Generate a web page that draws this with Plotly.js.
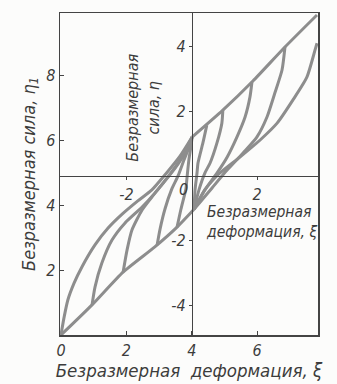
<!DOCTYPE html>
<html>
<head>
<meta charset="utf-8">
<script src="https://cdn.plot.ly/plotly-3.0.1.min.js"></script>
<style>html,body{margin:0;padding:0;background:#fcfcfb;}#chart{width:337px;height:384px;}</style>
</head>
<body>
<div id="chart"></div>
<script>
// Outer axes: ξ (0..8) and η1 (0..10); inner axes are the same scale, shifted
var outerXTicks = [0, 2, 4, 6];
var outerYTicks = [2, 4, 6, 8];
var innerXTicks = [-2, 2];
var innerXText = ['-2', '2'];
var innerYTicks = [-4, -2, 2, 4];
var innerYText = ['-4', '-2', '2', '4'];

// Curves in outer coordinates (ξ, η1)
var virginX = [0, 0.09, 0.21, 0.40, 0.64, 1.04, 1.44, 1.87, 2.35, 2.78, 3.21, 3.64, 4.01];
var virginY = [0, 0.52, 1.08, 1.60, 2.10, 2.78, 3.30, 3.73, 4.14, 4.48, 4.98, 5.52, 6.11];

var upperX = [4.01, 4.95, 5.87, 6.85, 7.83];
var upperY = [6.11, 6.94, 7.84, 8.89, 9.88];

var lowerX = [0, 0.95, 1.90, 2.87, 3.55, 4.07];
var lowerY = [0, 0.93, 1.94, 2.72, 3.33, 3.88];

var unloadX = [7.83, 7.77, 7.52, 7.09, 6.61, 6.09, 5.47, 4.86, 4.40, 4.07];
var unloadY = [9.01, 8.80, 7.96, 7.25, 6.54, 6.02, 5.49, 5.00, 4.48, 3.88];

var f4X = [6.85, 6.76, 6.54, 6.30, 5.99, 5.57, 5.08, 4.62, 4.07];
var f4Y = [8.89, 8.18, 7.47, 6.73, 6.11, 5.62, 5.09, 4.54, 3.88];
var f3X = [5.84, 5.78, 5.63, 5.38, 5.08, 4.77, 4.40, 4.07];
var f3Y = [7.81, 7.35, 6.73, 6.11, 5.49, 5.00, 4.48, 3.88];
var f2X = [4.95, 4.92, 4.77, 4.56, 4.40, 4.22, 4.07];
var f2Y = [6.94, 6.54, 5.93, 5.31, 5.00, 4.48, 3.88];
var f1X = [4.46, 4.34, 4.19, 4.16, 4.10, 4.07];
var f1Y = [6.48, 5.93, 5.31, 5.00, 4.48, 3.88];

var l1X = [0.95, 1.04, 1.25, 1.56, 1.96, 2.48, 2.87, 3.27, 3.64, 4.01];
var l1Y = [0.93, 1.48, 2.22, 2.93, 3.46, 3.95, 4.38, 4.88, 5.40, 6.11];
var l2X = [1.90, 2.02, 2.17, 2.48, 2.78, 3.12, 3.49, 3.85, 4.01];
var l2Y = [1.94, 2.62, 3.24, 3.86, 4.26, 4.68, 5.15, 5.72, 6.11];
var l3X = [2.94, 3.03, 3.18, 3.39, 3.58, 3.76, 3.94, 4.01];
var l3Y = [2.78, 3.27, 3.89, 4.51, 4.91, 5.40, 5.86, 6.11];
var l4X = [3.55, 3.67, 3.82, 3.85, 3.91, 3.98, 4.01];
var l4Y = [3.33, 3.89, 4.51, 4.81, 5.40, 5.86, 6.11];

var curves = [
  [virginX, virginY], [upperX, upperY], [lowerX, lowerY], [unloadX, unloadY],
  [f4X, f4Y], [f3X, f3Y], [f2X, f2Y], [f1X, f1Y],
  [l1X, l1Y], [l2X, l2Y], [l3X, l3Y], [l4X, l4Y]
];

var FONT = 'DejaVu Sans Condensed, DejaVu Sans, sans-serif';
var INK = '#3c3c3c';
var CURVE = '#8d8d8d';

var traces = curves.map(function (c) {
  return {
    x: c[0], y: c[1], type: 'scatter', mode: 'lines',
    line: {color: CURVE, width: 3, shape: 'spline', smoothing: 0.6},
    hoverinfo: 'skip', showlegend: false
  };
});
// empty trace to create the inner (shifted) axes subplot
traces.push({x: [], y: [], xaxis: 'x2', yaxis: 'y2', type: 'scatter', mode: 'lines', showlegend: false, hoverinfo: 'skip'});

var tickFont = {family: FONT, size: 16, color: INK, style: 'italic'};

var layout = {
  width: 337, height: 384,
  margin: {l: 60, r: 19, t: 13, b: 49, pad: 0},
  paper_bgcolor: '#fcfcfb', plot_bgcolor: '#fcfcfb',
  showlegend: false,
  xaxis: {
    range: [-0.03, 7.86], tickvals: outerXTicks, ticktext: outerXTicks.map(String),
    showline: true, mirror: true, linecolor: '#444', linewidth: 1.5,
    ticks: 'inside', ticklen: 4, tickcolor: '#444', showgrid: false, zeroline: false,
    tickfont: tickFont, automargin: false,
    title: {text: 'Безразмерная  деформация, ξ', standoff: 2,
            font: {family: FONT, size: 18.5, color: INK, style: 'italic'}}
  },
  yaxis: {
    range: [0, 9.94], tickvals: outerYTicks, ticktext: outerYTicks.map(String),
    showline: true, mirror: true, linecolor: '#444', linewidth: 1.5,
    ticks: 'inside', ticklen: 4, tickcolor: '#444', showgrid: false, zeroline: false,
    tickfont: tickFont, automargin: false,
    title: {text: 'Безразмерная сила, η<sub>1</sub>', standoff: 6,
            font: {family: FONT, size: 18, color: INK, style: 'italic'}}
  },
  xaxis2: {
    overlaying: 'x', anchor: 'free', position: 0.494, side: 'bottom',
    range: [-4.03, 3.86], tickvals: innerXTicks, ticktext: innerXText,
    showline: true, linecolor: '#444', linewidth: 1.5,
    ticks: 'outside', ticklen: 3, tickcolor: '#444', showgrid: false, zeroline: false,
    tickfont: tickFont
  },
  yaxis2: {
    overlaying: 'y', anchor: 'free', position: 0.511, side: 'left',
    range: [-4.91, 5.03], tickvals: innerYTicks, ticktext: innerYText,
    showline: true, linecolor: '#444', linewidth: 1.5,
    ticks: 'outside', ticklen: 3, tickcolor: '#444', showgrid: false, zeroline: false,
    tickfont: tickFont
  },
  annotations: [
    {xref: 'x2', yref: 'y2', x: 0, y: 0, text: '0', showarrow: false,
     xanchor: 'right', yanchor: 'top', xshift: -2, yshift: -2, font: tickFont},
    {xref: 'x2', yref: 'y2', x: -1.5, y: 2.1, text: 'Безразмерная<br>сила, η', showarrow: false,
     textangle: -90, align: 'center', font: {family: FONT, size: 16, color: INK, style: 'italic'}},
    {xref: 'x2', yref: 'y2', x: 2.12, y: -1.42, text: 'Безразмерная<br>деформация, ξ', showarrow: false,
     align: 'left', font: {family: FONT, size: 15.5, color: INK, style: 'italic'}}
  ]
};

Plotly.newPlot('chart', traces, layout, {staticPlot: true, displayModeBar: false});
</script>
</body>
</html>
